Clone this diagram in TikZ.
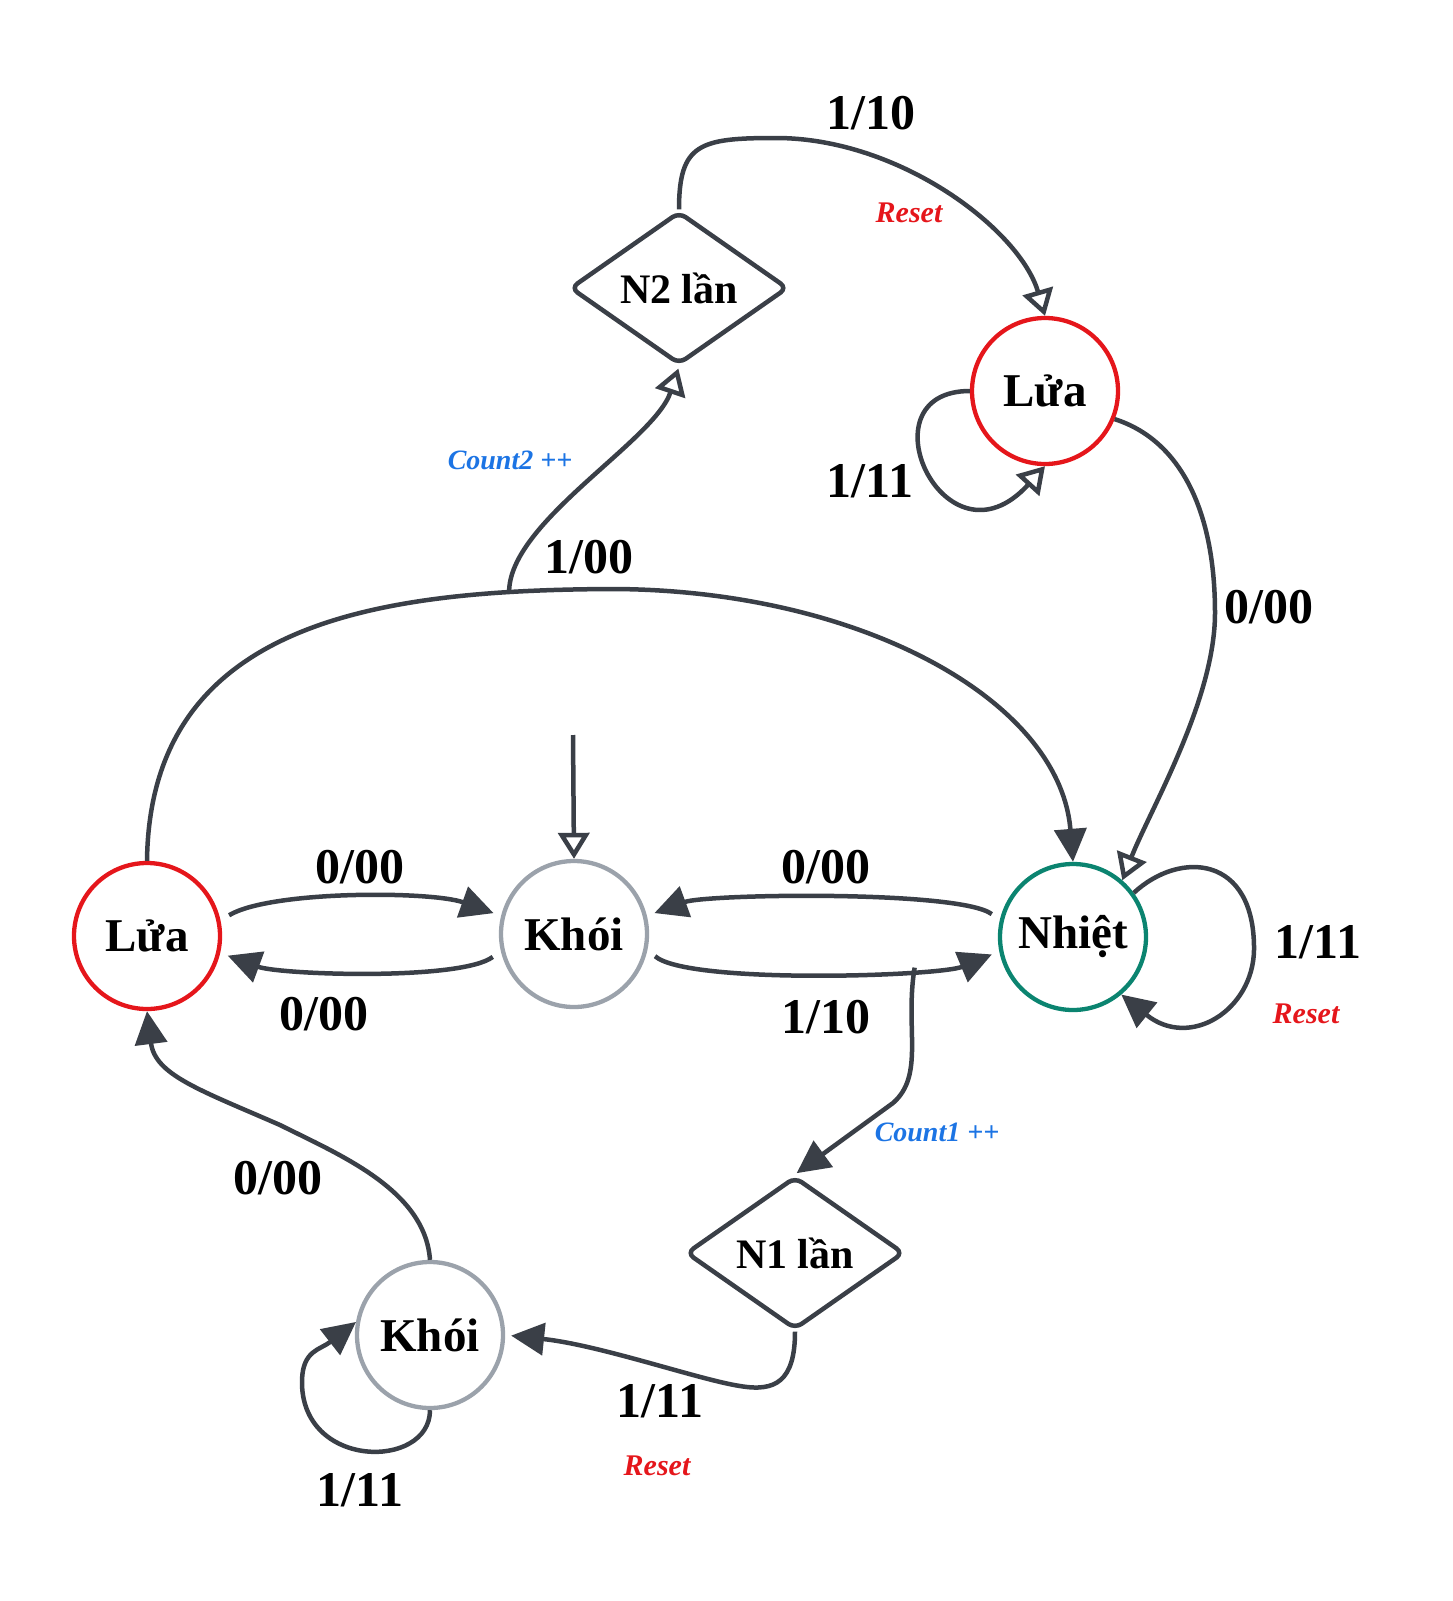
\documentclass[tikz,border=0pt]{standalone}
\usepackage{fontspec}
\setmainfont{Liberation Serif}
\usetikzlibrary{arrows.meta,shapes.geometric}

\definecolor{edgec}{HTML}{3A3F47}
\definecolor{redc}{HTML}{E5161B}
\definecolor{tealc}{HTML}{0B8470}
\definecolor{grayc}{HTML}{9BA2AB}
\definecolor{bluec}{HTML}{1C74E4}

\tikzset{
 stnode/.style={circle, line width=4.3pt, minimum size=146pt, inner sep=0pt, font=\fontsize{47}{50}\selectfont\bfseries, text=black},
 fire/.style={stnode, draw=redc},
 smoke/.style={stnode, draw=grayc},
 heat/.style={stnode, draw=tealc},
 cntbox/.style={diamond, draw=edgec, line width=4.5pt, minimum width=218pt, minimum height=150pt, inner sep=1pt, rounded corners=8pt, font=\fontsize{42}{46}\selectfont\bfseries},
 conn/.style={draw=edgec, line width=4.5pt},
 fa/.style={conn, -{Triangle[length=33pt,width=32pt]}},
 oa/.style={conn, -{Triangle[open,length=26pt,width=31pt]}},
 lab/.style={font=\fontsize{50}{54}\selectfont\bfseries},
 rst/.style={text=redc, font=\fontsize{30}{34}\selectfont\bfseries\itshape},
 cnt/.style={text=bluec, font=\fontsize{28}{32}\selectfont\bfseries\itshape},
}

\begin{document}
\begin{tikzpicture}[x=1pt,y=-1pt]
\useasboundingbox (0,0) rectangle (1453,1601);

% states
\node[fire]  (lfL) at (147,936)  {Lửa};
\node[smoke] (kh)  at (574,934)  {Khói};
\node[heat]  (nh)  at (1073,937) {Nhiệt};
\node[fire]  (lfT) at (1045,391) {Lửa};
\node[cntbox] (n2) at (679,288)  {N2 lần};
\node[cntbox] (n1) at (795,1253) {N1 lần};
\node[smoke] (kb)  at (430,1335) {Khói};
\coordinate (init) at (573,735);

% initial
\draw[oa] (init) -- (kh.north);

% Lua <-> Khoi
\draw[fa, shorten <=10pt, shorten >=8pt] (lfL.12) .. controls +(50,-30) and +(-70,-25) .. (kh.166);
\draw[fa, shorten <=10pt, shorten >=8pt] (kh.193) .. controls +(-40,30) and +(60,22) .. (lfL.-13);

% Nhiet <-> Khoi
\draw[fa, shorten <=10pt, shorten >=8pt] (nh.167) .. controls +(-40,-30) and +(60,-22) .. (kh.14);
\draw[fa, shorten <=10pt, shorten >=8pt] (kh.-12) .. controls +(40,35) and +(-60,25) .. (nh.191) coordinate[pos=0.725] (br1);

% big arc Lua -> Nhiet
\draw[fa] (lfL.north) .. controls (150,620) and (380,590) .. (613,589) coordinate[pos=0.85] (br2)
  .. controls (860,590) and (1060,700) .. (nh.north);

% branch to N2
\draw[oa, shorten >=2pt] (br2) .. controls +(0,-70) and +(-25,75) .. (n2.south);

% N2 -> Lua top
\draw[oa] (n2.north) .. controls +(0,-66) and (700,138) .. (776,138)
  .. controls (900,138) and (1020,230) .. (lfT.north);

% Lua top self loop
\draw[oa] (lfT.west) .. controls +(-110,0) and +(-100,110) .. (lfT.south);

% Lua top -> Nhiet
\draw[oa] (lfT.-22) .. controls (1180,440) and (1215,510) .. (1215,613)
  .. controls (1215,700) and (1150,810) .. (nh.49);

% Nhiet self loop
\draw[fa] (nh.36) .. controls (1180,850) and (1255,855) .. (1254,950)
  .. controls (1253,1010) and (1190,1050) .. (nh.-50);

% branch to N1
\draw[fa, shorten >=2pt] (br1) .. controls +(-10,60) and (925,1075) .. (893,1103) -- (n1.north);

% N1 -> Khoi bottom
\draw[fa, shorten >=6pt] (n1.south) .. controls +(0,50) and (775,1392) .. (740,1386)
  .. controls (700,1380) and (600,1345) .. (kb.east);

% Khoi bottom -> Lua left
\draw[fa] (kb.north) .. controls (425,1190) and (340,1155) .. (280,1125)
  .. controls (200,1090) and (155,1075) .. (lfL.south);

% Khoi bottom self loop
\draw[fa] (kb.south) .. controls (430,1470) and (300,1470) .. (302,1380)
  .. controls (303,1350) and (320,1350) .. (kb.170);

% labels
\node[lab] (t1)  at (360,867)   {0/00};
\node[lab] (t2)  at (324,1014)  {0/00};
\node[lab] (t3)  at (826,867)   {0/00};
\node[lab] (t4)  at (826,1017)  {1/10};
\node[lab] (t5)  at (589,557)   {1/00};
\node[cnt] (t6)  at (510,460)   {Count2 ++};
\node[lab] (t7)  at (871,113)   {1/10};
\node[rst] (t8)  at (909,213)   {Reset};
\node[lab] (t9)  at (870,481)   {1/11};
\node[lab] (t10) at (1269,607)  {0/00};
\node[lab] (t11) at (1318,942)  {1/11};
\node[rst] (t12) at (1306,1014) {Reset};
\node[cnt] (t13) at (937,1132)  {Count1 ++};
\node[lab] (t14) at (660,1401)  {1/11};
\node[rst] (t15) at (657,1466)  {Reset};
\node[lab] (t16) at (278,1178)  {0/00};
\node[lab] (t17) at (360,1490)  {1/11};
\end{tikzpicture}
\end{document}
